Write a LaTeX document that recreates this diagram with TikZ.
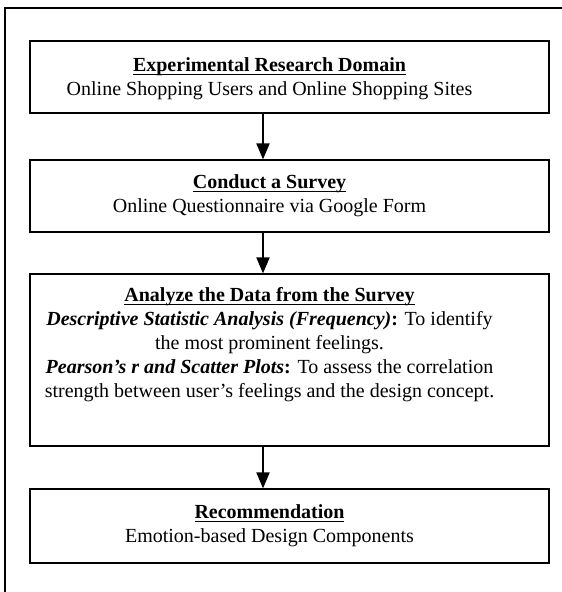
\documentclass[tikz,border=0pt]{standalone}
\usepackage{fontspec}
\setmainfont{Liberation Serif}
\usetikzlibrary{arrows.meta}

% bold heading with a rule close under the baseline
\newcommand{\steptitle}[1]{\setbox0\hbox{\textbf{#1}}\rlap{\rule[-3.5pt]{\wd0}{1pt}}\box0}

\begin{document}
\begin{tikzpicture}[x=1pt, y=1pt,
    stepbox/.style={draw, line width=1.2pt, minimum width=519pt, inner sep=0pt},
    steptext/.style={align=center, font=\fontsize{20}{24}\selectfont, xshift=-20pt},
    flow/.style={-{Triangle[width=13pt,length=16pt]}, line width=2pt}]
  \useasboundingbox (0,0) rectangle (562,-592);

  % outer frame, cut by the page edge
  \begin{scope}
    \clip (0,0) rectangle (562,-592);
    \draw[line width=1.2pt] (5,-8) rectangle (620,-650);
  \end{scope}

  % steps
  \node[stepbox, minimum height=72pt, label={[steptext, yshift=-2pt]center:{\steptitle{Experimental Research Domain}\\
    Online Shopping Users and Online Shopping Sites}}] (domain) at (289.5,-77) {};
  \node[stepbox, minimum height=72pt, label={[steptext]center:{\steptitle{Conduct a Survey}\\
    Online Questionnaire via Google Form}}] (survey) at (289.5,-196) {};
  \node[stepbox, minimum height=172pt, label={[steptext, anchor=north, yshift=-10pt]north:{\steptitle{Analyze the Data from the Survey}\\
    \textbf{\textit{Descriptive Statistic Analysis (Frequency)}:} To identify\\
    the most prominent feelings.\\
    \textbf{\textit{Pearson's r and Scatter Plots}:} To assess the correlation\\
    strength between user's feelings and the design concept.}}] (analyze) at (289.5,-360) {};
  \node[stepbox, minimum height=74pt, label={[steptext]center:{\steptitle{Recommendation}\\
    Emotion-based Design Components}}] (recommend) at (289.5,-526) {};

  % arrows
  \coordinate (axis) at (263,0);
  \draw[flow] (domain.south -| axis) -- (survey.north -| axis);
  \draw[flow] (survey.south -| axis) -- (analyze.north -| axis);
  \draw[flow] (analyze.south -| axis) -- (recommend.north -| axis);
\end{tikzpicture}
\end{document}
